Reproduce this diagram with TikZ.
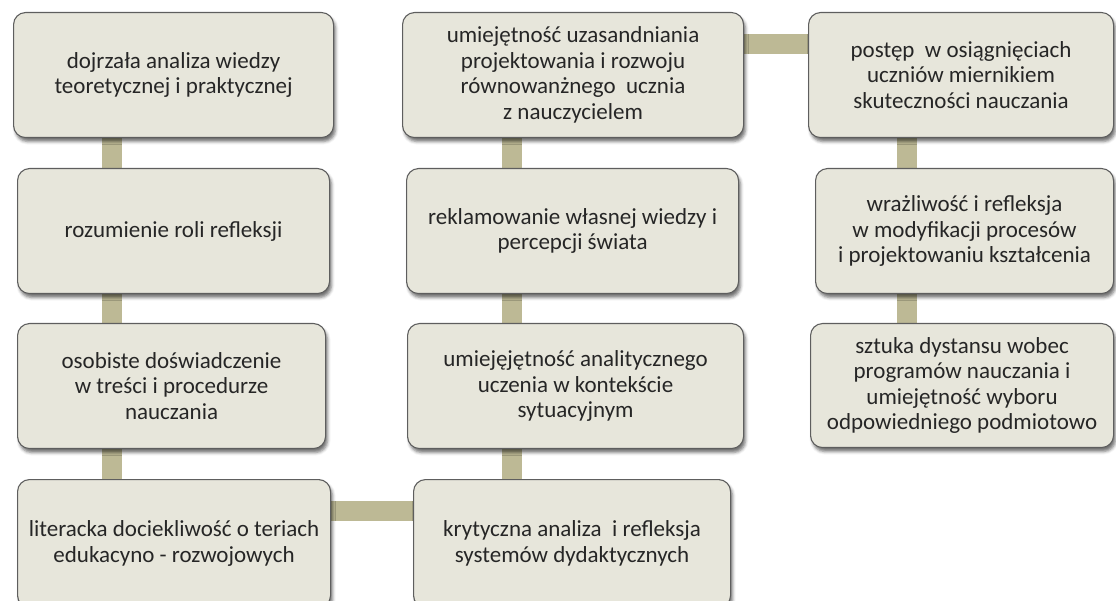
\documentclass[tikz,border=0pt]{standalone}
\usepackage{fontspec}
\setmainfont{Carlito}
\usetikzlibrary{shadows.blur}
\definecolor{cardfill}{HTML}{E7E6DB}
\definecolor{cardline}{HTML}{5E5E5E}
\definecolor{linkcol}{HTML}{BDB995}
\definecolor{txt}{HTML}{262626}
\begin{document}
\begin{tikzpicture}[x=1pt,y=1pt,
  card/.style={draw=cardline, line width=1.1pt, fill=cardfill, rounded corners=12pt,
    anchor=north west, inner sep=0pt, align=center, text=txt,
    font=\fontsize{23}{25.5}\selectfont,
    blur shadow={shadow xshift=2pt, shadow yshift=-4pt, shadow blur radius=3pt, shadow opacity=55}},
  link/.style={draw=linkcol, line width=20pt}]
\useasboundingbox (0,0) rectangle (1116,600);

% first column
\node[card, minimum width=320pt, minimum height=125pt] (a1) at (13,588)
  {dojrzała analiza wiedzy\\teoretycznej i praktycznej};
\node[card, minimum width=312pt, minimum height=125pt] (a2) at (17,432)
  {rozumienie roli refleksji};
\node[card, minimum width=308pt, minimum height=125pt] (a3) at (17,277)
  {osobiste doświadczenie\\w treści i procedurze\\nauczania};
\node[card, minimum width=313pt, minimum height=128pt] (a4) at (17,121)
  {literacka dociekliwość o teriach\\edukacyno - rozwojowych};

% second column
\node[card, minimum width=341pt, minimum height=125pt] (b1) at (402,588)
  {umiejętność uzasandniania\\projektowania i rozwoju\\równowanżnego\ \ ucznia\\z nauczycielem};
\node[card, minimum width=332pt, minimum height=125pt] (b2) at (406,432)
  {reklamowanie własnej wiedzy i\\percepcji świata};
\node[card, minimum width=336pt, minimum height=125pt] (b3) at (407,277)
  {umiejęjętność analitycznego\\uczenia w kontekście\\sytuacyjnym};
\node[card, minimum width=317pt, minimum height=128pt] (b4) at (413,121)
  {krytyczna analiza\ \ i refleksja\\systemów dydaktycznych};

% third column
\node[card, minimum width=305pt, minimum height=125pt] (c1) at (808,588)
  {postęp\ \ w osiągnięciach\\uczniów miernikiem\\skuteczności nauczania};
\node[card, minimum width=298pt, minimum height=125pt] (c2) at (815,432)
  {wrażliwość i refleksja\\w modyfikacji procesów\\i projektowaniu kształcenia};
\node[card, minimum width=303pt, minimum height=124pt] (c3) at (810,277)
  {sztuka dystansu wobec\\programów nauczania i\\umiejętność wyboru\\odpowiedniego podmiotowo};

% connecting bars, drawn behind the cards
\pgfdeclarelayer{bars}
\pgfsetlayers{bars,main}
\begin{pgfonlayer}{bars}
  \draw[link] ([xshift=99pt]a1.south west) -- ([xshift=99pt]a1.south west |- a2.north);
  \draw[link] ([xshift=95pt]a2.south west) -- ([xshift=95pt]a2.south west |- a3.north);
  \draw[link] ([xshift=95pt]a3.south west) -- ([xshift=95pt]a3.south west |- a4.north);
  \draw[link] ([yshift=-32pt]a4.north east) -- ([yshift=-32pt]a4.north east -| b4.west);
  \draw[link] ([xshift=99pt]b4.north west) -- ([xshift=99pt]b4.north west |- b3.south);
  \draw[link] ([xshift=105pt]b3.north west) -- ([xshift=105pt]b3.north west |- b2.south);
  \draw[link] ([xshift=106pt]b2.north west) -- ([xshift=106pt]b2.north west |- b1.south);
  \draw[link] ([yshift=-32pt]b1.north east) -- ([yshift=-32pt]b1.north east -| c1.west);
  \draw[link] ([xshift=99pt]c1.south west) -- ([xshift=99pt]c1.south west |- c2.north);
  \draw[link] ([xshift=92pt]c2.south west) -- ([xshift=92pt]c2.south west |- c3.north);
\end{pgfonlayer}
\end{tikzpicture}
\end{document}
